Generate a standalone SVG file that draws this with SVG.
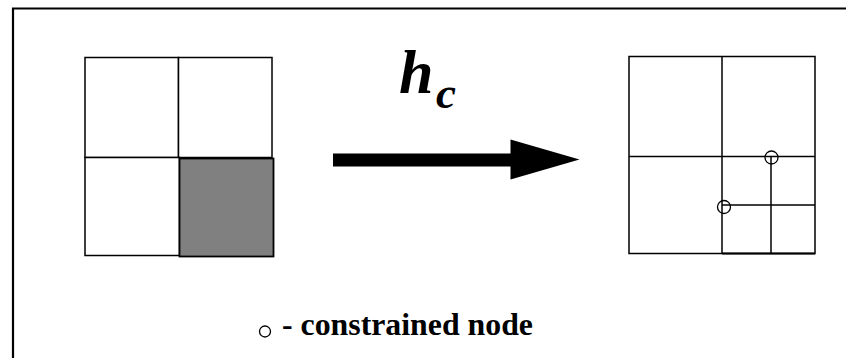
<svg xmlns="http://www.w3.org/2000/svg" width="846" height="358" viewBox="0 0 846 358">
<style>
.ln{stroke:#000;stroke-width:1.5;fill:none}
.cell{stroke:#000;stroke-width:1.5;fill:#fff}
.node{stroke:#000;stroke-width:1.3;fill:none}
</style>
<rect width="846" height="358" fill="#fff"/>
<g id="frame">
<path d="M13 358 V8.5 H846" stroke="#000" stroke-width="2.2" fill="none"/>
</g>
<g id="coarse-mesh">
<rect class="cell" x="85" y="57.5" width="93.5" height="100"/>
<rect class="cell" x="178.5" y="57.5" width="93.5" height="100"/>
<rect class="cell" x="85" y="157.5" width="94.5" height="98"/>
<rect x="179.5" y="158.5" width="94" height="98" fill="#808080" stroke="#000" stroke-width="1.8"/>
</g>
<g id="refined-mesh">
<rect class="ln" x="629" y="56.5" width="186" height="197"/>
<line class="ln" x1="722" y1="56.5" x2="722" y2="253.5"/>
<line class="ln" x1="629" y1="156.5" x2="815" y2="156.5"/>
<line class="ln" x1="771" y1="156.5" x2="771" y2="253.5"/>
<line class="ln" x1="722" y1="205" x2="815" y2="205"/>
<path d="M722 253.5 H815" stroke="#000" stroke-width="2.2"/>
<ellipse class="node" cx="771.5" cy="157.5" rx="6.5" ry="6.5"/>
<ellipse class="node" cx="724" cy="207" rx="6.5" ry="6.5"/>
</g>
<g id="connectors">
<g id="refine-arrow">
<rect x="333" y="153.5" width="178" height="13" fill="#000"/>
<polygon points="510.5,139.5 579.5,159.5 510.5,179.5" fill="#000"/>
</g>
</g>
<g id="arrow-label" font-family="'Liberation Serif','Times New Roman',serif" font-weight="bold" font-style="italic" fill="#000">
<text x="399" y="93" font-size="62">h</text>
<text x="436" y="108" font-size="45">c</text>
</g>
<g id="legend">
<circle class="node" cx="265" cy="331.5" r="5.5" stroke-width="1.2"/>
<text x="282" y="335" font-size="31" font-family="'Liberation Serif','Times New Roman',serif" font-weight="bold" fill="#000" textLength="251" lengthAdjust="spacingAndGlyphs">- constrained node</text>
</g>
</svg>
